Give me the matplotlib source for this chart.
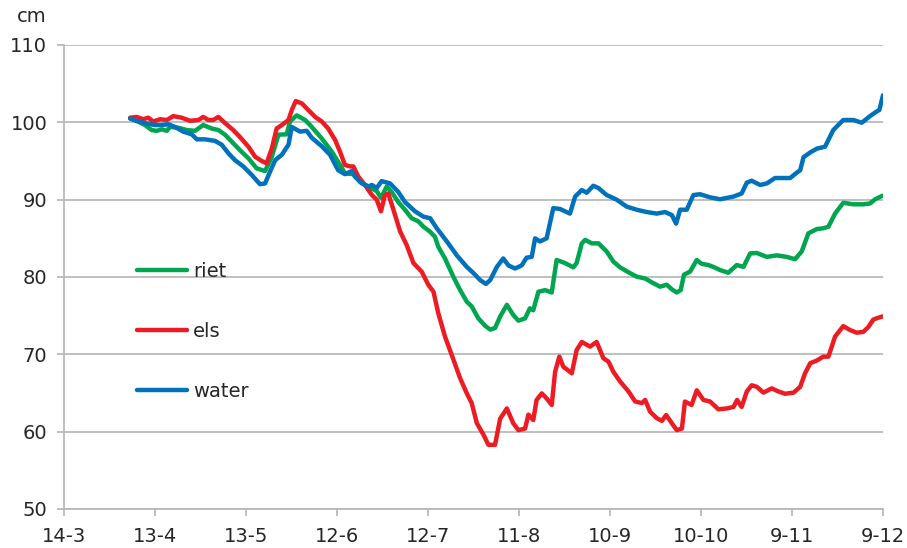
import matplotlib
matplotlib.use("Agg")
import matplotlib.pyplot as plt

# x values are days after 14 March
tick_days = [0, 30, 60, 90, 120, 150, 180, 210, 240, 270]
tick_labels = ["14-3", "13-4", "13-5", "12-6", "12-7", "11-8", "10-9", "10-10", "9-11", "9-12"]
y_ticks = [50, 60, 70, 80, 90, 100, 110]

water_days = [21.8, 24.5, 26.7, 30.0, 32.2, 34.4, 36.6, 39.3, 42.1, 43.8, 46.5, 49.8, 52.0, 54.2, 56.4,
              59.1, 61.9, 64.6, 66.3, 67.9, 69.6, 71.8, 74.0, 75.1, 77.8, 80.0, 81.7, 85.0, 87.7, 90.4,
              92.6, 94.9, 95.9, 98.2, 100.3, 101.5, 103.1, 104.7, 107.5, 110.2, 112.4, 115.7, 118.5,
              120.7, 122.9, 126.2, 129.5, 132.8, 135.0, 137.2, 139.1, 140.5, 142.7, 144.8, 146.5, 148.7,
              150.9, 152.5, 154.2, 155.3, 156.9, 159.1, 161.3, 163.5, 166.8, 168.5, 170.7, 172.3, 174.5,
              176.2, 178.9, 182.2, 185.5, 188.8, 192.1, 195.4, 198.2, 200.4, 201.8, 203.1, 205.3, 207.5,
              209.7, 213.0, 216.3, 220.7, 223.4, 225.1, 226.7, 229.5, 231.7, 234.4, 239.4, 241.6, 242.7,
              243.8, 246.0, 248.2, 250.9, 253.6, 256.9, 260.2, 263.0, 265.7, 267.9, 268.8, 270.0]
water_vals = [100.5, 100.1, 99.9, 99.65, 99.65, 99.75, 99.4, 98.8, 98.45, 97.8, 97.8, 97.6, 97.1, 96.0, 95.1,
              94.3, 93.2, 92.0, 92.1, 93.6, 95.1, 95.8, 97.1, 99.4, 98.8, 98.9, 98.0, 96.9, 95.8, 93.8,
              93.3, 93.7, 93.0, 92.1, 91.7, 91.9, 91.5, 92.4, 92.1, 91.0, 89.7, 88.5, 87.8,
              87.6, 86.3, 84.6, 82.8, 81.3, 80.5, 79.6, 79.1, 79.6, 81.3, 82.4, 81.5, 81.1,
              81.5, 82.5, 82.6, 85.0, 84.6, 85.0, 88.9, 88.8, 88.2, 90.4, 91.25, 90.9, 91.8,
              91.5, 90.6, 90.0, 89.1, 88.7, 88.4, 88.2, 88.4, 88.0, 86.9, 88.7, 88.7, 90.6,
              90.7, 90.3, 90.05, 90.4, 90.8, 92.2, 92.45, 91.9, 92.1, 92.8, 92.8, 93.5, 93.8,
              95.5, 96.1, 96.6, 96.85, 99.0, 100.3, 100.3, 99.95, 100.8, 101.4, 101.6, 103.5]

riet_days = [21.8, 24.5, 26.7, 28.9, 30.6, 32.2, 33.9, 34.9, 37.7, 40.5, 43.2, 45.9, 48.7, 50.9, 53.1,
             55.3, 58.0, 60.8, 63.5, 66.3, 68.5, 70.7, 73.4, 74.5, 76.7, 79.5, 81.7, 85.0, 88.3, 91.0,
             92.6, 95.4, 97.6, 100.3, 103.1, 104.5, 106.4, 108.0, 110.2, 112.4, 114.6, 116.8, 118.5,
             120.7, 122.3, 123.4, 125.6, 128.4, 130.6, 132.8, 134.4, 136.6, 138.8, 140.5, 142.1, 143.8,
             146.0, 148.1, 149.8, 152.0, 153.6, 154.7, 156.4, 158.6, 160.8, 162.4, 165.2, 167.9, 169.0,
             170.7, 171.8, 174.0, 176.2, 178.9, 181.1, 183.3, 186.6, 188.8, 191.6, 194.3, 196.5, 198.7,
             200.4, 202.0, 203.3, 204.4, 206.4, 208.6, 210.2, 212.4, 214.1, 216.3, 219.0, 221.8, 224.0,
             226.2, 228.4, 231.7, 235.0, 238.3, 241.0, 243.2, 245.4, 248.2, 250.3, 252.0, 254.2, 256.9,
             260.2, 263.5, 265.7, 267.4, 269.8]
riet_vals = [100.5, 100.1, 99.65, 99.0, 98.9, 99.1, 98.9, 99.4, 99.3, 99.0, 98.9, 99.65, 99.2, 99.0, 98.4,
             97.5, 96.4, 95.35, 94.05, 93.7, 95.55, 98.4, 98.45, 100.1, 100.9, 100.3, 99.4, 97.9, 96.2, 94.5,
             93.4, 93.3, 92.3, 91.7, 91.1, 90.25, 91.7, 91.0, 89.7, 88.7, 87.6, 87.2, 86.5,
             85.85, 85.2, 83.9, 82.4, 80.0, 78.3, 76.8, 76.2, 74.65, 73.7, 73.2, 73.4, 74.9,
             76.4, 75.1, 74.35, 74.65, 75.95, 75.7, 78.1, 78.3, 78.0, 82.2, 81.8, 81.25, 81.8,
             84.35, 84.8, 84.35, 84.35, 83.3, 82.0, 81.25, 80.5, 80.05, 79.8, 79.2, 78.75, 79.0,
             78.4, 78.0, 78.3, 80.3, 80.7, 82.2, 81.7, 81.55, 81.3, 80.9, 80.55, 81.55, 81.3,
             83.05, 83.1, 82.6, 82.8, 82.6, 82.3, 83.3, 85.65, 86.2, 86.3, 86.5, 88.2, 89.6,
             89.4, 89.4, 89.5, 90.05, 90.5]

els_days = [21.8, 24.0, 26.1, 27.8, 29.4, 31.7, 33.9, 36.0, 38.8, 41.5, 44.3, 45.9, 47.6, 49.2, 50.9,
            53.1, 55.8, 58.0, 60.8, 63.0, 65.2, 66.8, 68.5, 70.1, 71.8, 74.0, 75.1, 76.4, 78.4, 80.5,
            82.8, 85.0, 87.1, 89.4, 91.0, 92.6, 94.3, 95.4, 97.0, 99.2, 101.5, 103.1, 104.5, 105.8,
            106.9, 108.6, 110.8, 113.0, 115.2, 117.9, 120.1, 121.8, 123.4, 125.6, 128.4, 130.6, 132.8,
            134.4, 136.1, 138.3, 139.9, 142.1, 143.8, 146.0, 148.1, 149.8, 152.0, 153.1, 154.7, 155.8,
            157.5, 159.1, 160.8, 161.9, 163.3, 164.6, 167.4, 169.0, 170.7, 173.4, 175.6, 177.8, 179.5,
            181.1, 183.3, 186.1, 188.3, 190.5, 191.6, 193.2, 195.4, 197.1, 198.5, 200.4, 202.0, 203.7,
            204.7, 206.9, 208.6, 210.8, 213.0, 215.7, 218.5, 220.7, 221.9, 223.4, 225.1, 226.7, 228.4,
            230.6, 233.3, 235.5, 237.7, 240.5, 242.7, 244.3, 246.0, 248.2, 250.3, 252.0, 254.2, 256.9,
            259.1, 261.3, 263.5, 265.2, 266.8, 268.6, 269.8]
els_vals = [100.6, 100.7, 100.4, 100.6, 100.1, 100.4, 100.3, 100.8, 100.6, 100.2, 100.3, 100.7, 100.3, 100.3, 100.7,
            99.9, 99.0, 98.1, 96.85, 95.55, 95.0, 94.7, 96.6, 99.2, 99.65, 100.3, 101.6, 102.75, 102.45, 101.6,
            100.7, 100.1, 99.2, 97.7, 96.2, 94.5, 94.3, 94.3, 93.0, 91.9, 90.6, 90.0, 88.5, 90.6,
            90.8, 88.7, 85.9, 84.1, 81.8, 80.7, 79.0, 78.1, 75.3, 72.3, 69.3, 66.9, 64.95,
            63.7, 61.1, 59.6, 58.3, 58.3, 61.7, 63.0, 61.1, 60.2, 60.4, 62.2, 61.5, 64.1,
            64.95, 64.3, 63.45, 67.75, 69.7, 68.4, 67.55, 70.55, 71.6, 71.0, 71.6, 69.5, 69.05,
            67.75, 66.5, 65.2, 63.9, 63.7, 64.1, 62.6, 61.75, 61.4, 62.15, 61.1, 60.2, 60.4,
            63.9, 63.45, 65.35, 64.1, 63.9, 62.9, 63.0, 63.2, 64.1, 63.2, 65.2, 66.0, 65.8,
            65.05, 65.6, 65.2, 64.9, 65.05, 65.8, 67.55, 68.85, 69.2, 69.7, 69.7, 72.3, 73.65,
            73.15, 72.8, 72.9, 73.55, 74.5, 74.75, 74.9]

grid_col = "#b4b4b4"
text_col = "#262626"

fig = plt.figure(figsize=(9.07, 5.48), dpi=100)
ax = fig.add_axes([64 / 907, 1 - 509 / 548, 819 / 907, 464 / 548])

ax.plot(riet_days, riet_vals, color="#00a64f", lw=3.2, label="riet", solid_capstyle="round", solid_joinstyle="round")
ax.plot(els_days, els_vals, color="#ed1c24", lw=3.2, label="els", solid_capstyle="round", solid_joinstyle="round")
ax.plot(water_days, water_vals, color="#0072bc", lw=3.2, label="water", solid_capstyle="round", solid_joinstyle="round")

ax.set_xlim(0, 270)
ax.set_ylim(50, 110)
ax.set_xticks(tick_days)
ax.set_xticklabels(tick_labels)
ax.set_yticks(y_ticks)
ax.yaxis.grid(True, color=grid_col, lw=1.2)
ax.set_axisbelow(True)
for s in ["top", "right"]:
    ax.spines[s].set_visible(False)
for s in ["left", "bottom"]:
    ax.spines[s].set_color(grid_col)
    ax.spines[s].set_linewidth(1.2)
ax.tick_params(axis="both", colors=grid_col, labelcolor=text_col, labelsize=14, length=5, width=1.2)
ax.tick_params(axis="x", pad=8)
ax.tick_params(axis="y", pad=7)

leg = ax.legend(loc="center left", bbox_to_anchor=(0.089, 0.383), frameon=False, fontsize=14,
                handlelength=2.6, handletextpad=0.3, labelspacing=2.12, borderpad=0, borderaxespad=0)
for t in leg.get_texts():
    t.set_color(text_col)

fig.text(17 / 907, 1 - 17 / 548, "cm", fontsize=14, color=text_col, va="center", ha="left")

fig.savefig("out.png", dpi=100)
